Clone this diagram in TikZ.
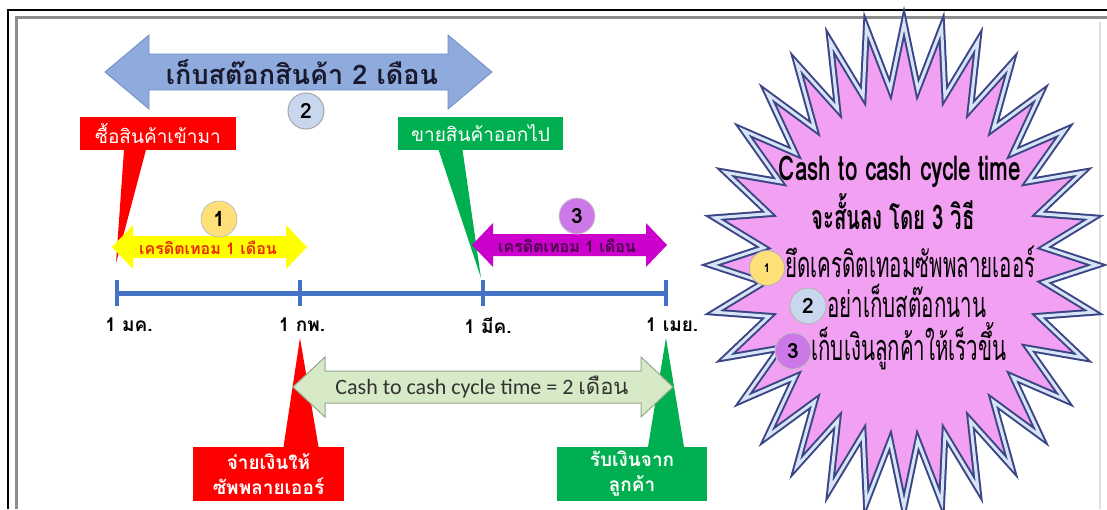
\documentclass[tikz,border=0pt]{standalone}
\usepackage{fontspec}
\newfontfamily\thai[Script=Thai]{Loma}
\newfontfamily\thaicond[Script=Thai,FakeStretch=0.66]{Loma}
\newfontfamily\thaisub[Script=Thai,FakeStretch=0.60]{Loma}
\newfontfamily\thainarrow[Script=Thai,FakeStretch=0.57]{Loma}
\newfontfamily\carl{Carlito}
\definecolor{bluearr}{RGB}{143,170,220}
\definecolor{bluearrb}{RGB}{110,140,200}
\definecolor{circtwo}{RGB}{200,215,238}
\definecolor{circone}{RGB}{255,224,120}
\definecolor{circthree}{RGB}{204,120,230}
\definecolor{boxred}{RGB}{255,0,0}
\definecolor{boxgreen}{RGB}{0,176,80}
\definecolor{tlblue}{RGB}{68,114,196}
\definecolor{yelarr}{RGB}{255,255,0}
\definecolor{yeltext}{RGB}{235,40,0}
\definecolor{magarr}{RGB}{204,0,204}
\definecolor{magtext}{RGB}{70,0,70}
\definecolor{cashfill}{RGB}{214,234,200}
\definecolor{cashdraw}{RGB}{150,165,140}
\definecolor{starfill}{RGB}{242,160,242}
\definecolor{stardark}{RGB}{60,70,135}
\definecolor{starlight}{RGB}{215,228,245}
\definecolor{darktext}{RGB}{25,25,45}
\newcommand\dblarrowpath[6]{%
  (#1,#3) -- ({#1+#4},{#3-#6}) -- ({#1+#4},{#3-#5}) -- ({#2-#4},{#3-#5}) --
  ({#2-#4},{#3-#6}) -- (#2,#3) -- ({#2-#4},{#3+#6}) -- ({#2-#4},{#3+#5}) --
  ({#1+#4},{#3+#5}) -- ({#1+#4},{#3+#6}) -- cycle}
\tikzset{
  calloutbox/.style={inner sep=2pt, align=center, text=white, font=\thai\fontsize{19}{22}\selectfont},
  numcirc/.style={circle, minimum size=36pt, inner sep=0pt, font=\thai\bfseries\fontsize{21}{22}\selectfont, text=black},
  datelbl/.style={font=\thai\bfseries\fontsize{19}{22}\selectfont, text=black},
  tick/.style={draw=tlblue, line width=4pt},
  itemtext/.style={font=\thainarrow\fontsize{36}{38}\selectfont, text=black, anchor=west},
}
\begin{document}
\begin{tikzpicture}[x=1pt,y=-1pt]
\useasboundingbox (0,0) rectangle (1107,509);
\fill[white] (0,0) rectangle (1107,509);
% frame
\draw[black, line width=2pt] (8,509) -- (8,10) -- (1107,10);
\draw[black!45, line width=3pt] (16,509) -- (16,17) -- (1107,17);
\draw[black!12, line width=1.5pt] (1100,22) -- (1100,509);

% big blue arrow
\filldraw[fill=bluearr, draw=bluearrb, line width=0.8pt] \dblarrowpath{105}{492}{72}{44}{18}{37};
\node[font=\thai\bfseries\fontsize{27}{30}\selectfont, text=darktext] (stock) at (302,72) {เก็บสต๊อกสินค้า 2 เดือน};
\node[numcirc, fill=circtwo, draw=black!35, line width=1pt] (c2) at (306,111) {2};

% timeline
\coordinate (m1) at (117,293);
\coordinate (m2) at (300,293);
\coordinate (m3) at (483,293);
\coordinate (m4) at (666,293);
\draw[tlblue, line width=5pt] (m1) -- (m4);
\foreach \m in {m1,m2,m3,m4} \draw[tick] ([yshift=-13]\m) -- ([yshift=13]\m);
\node[datelbl] (d1) at (129,325) {1 มค.};
\node[datelbl] (d2) at (302,325) {1 กพ.};
\node[datelbl] (d3) at (488,325) {1 มีค.};
\node[datelbl] (d4) at (672,325) {1 เมย.};

% upper callouts
\node[calloutbox, fill=boxred, minimum width=156pt, minimum height=33pt] (buy) at (158,133) {ซื้อสินค้าเข้ามา};
\coordinate (tipbuy) at (116,263);
\fill[boxred] ([xshift=-34pt]buy.south) -- ([xshift=-12pt]buy.south) -- (tipbuy) -- cycle;
\node[calloutbox, fill=boxgreen, minimum width=165pt, minimum height=33pt] (sell) at (480.5,133) {ขายสินค้าออกไป};
\coordinate (tipsell) at (481,278);
\fill[boxgreen] ([xshift=-42pt]sell.south) -- ([xshift=-18pt]sell.south) -- (tipsell) -- cycle;

% lower callouts
\node[calloutbox, fill=boxred, minimum width=151pt, minimum height=54pt, font=\thai\bfseries\fontsize{19}{25}\selectfont] (pay) at (268.5,474) {จ่ายเงินให้\\ซัพพลายเออร์};
\coordinate (tippay) at (300,338);
\fill[boxred] ([xshift=15pt]pay.north) -- ([xshift=50pt]pay.north) -- (tippay) -- cycle;
\node[calloutbox, fill=boxgreen, minimum width=150pt, minimum height=54pt, font=\thai\bfseries\fontsize{19}{25}\selectfont] (recv) at (632,474) {รับเงินจาก\\ลูกค้า};
\coordinate (tiprecv) at (666,338);
\fill[boxgreen] ([xshift=16pt]recv.north) -- ([xshift=52pt]recv.north) -- (tiprecv) -- cycle;

% yellow credit arrow
\fill[yelarr] \dblarrowpath{112}{307}{247}{21}{11}{22};
\node[font=\thai\bfseries\fontsize{16}{18}\selectfont, text=yeltext] (cr1) at (208,248) {เครดิตเทอม 1 เดือน};
\node[numcirc, fill=circone, draw=black!25, line width=0.8pt] (c1) at (219,219) {1};

% magenta credit arrow
\fill[magarr] \dblarrowpath{472}{667}{245}{21}{11}{22};
\node[font=\thai\bfseries\fontsize{16}{18}\selectfont, text=magtext] (cr3) at (567,246) {เครดิตเทอม 1 เดือน};
\node[numcirc, fill=circthree, draw=black!20, line width=0.8pt] (c3) at (577,216) {3};

% cash to cash arrow
\filldraw[fill=cashfill, draw=cashdraw, line width=1pt] \dblarrowpath{293}{673}{387}{32}{16}{30};
\node[font=\carl\fontsize{22}{24}\selectfont, text=black!80] (cash) at (482,387) {Cash to cash cycle time = 2 {\thai เดือน}};

% star
\path[fill=starfill, draw=stardark, double=starlight, double distance=3pt, line width=2pt, line join=miter, miter limit=30]
  (1097,265) \foreach \i in {1,...,63} { -- ({904+(1-0.27*mod(\i,2))*193*cos(\i*5.625)},{265+(1-0.27*mod(\i,2))*242*sin(\i*5.625)}) } -- cycle;
\node[font=\thaicond\bfseries\fontsize{34}{36}\selectfont, text=black] (st1) at (900,172) {Cash to cash cycle time};
\node[font=\thaisub\bfseries\fontsize{34}{36}\selectfont, text=black] (st2) at (893,212) {จะสั้นลง โดย 3 วิธี};
\node[numcirc, minimum size=35pt, fill=circone, draw=black!30, line width=0.8pt, font=\thai\bfseries\fontsize{12}{14}\selectfont] (s1) at (767,268) {1};
\node[itemtext] (i1) at (782,262) {ยึดเครดิตเทอมซัพพลายเออร์};
\node[numcirc, minimum size=36pt, fill=circtwo, draw=black!30, line width=0.8pt] (s2) at (808,306) {2};
\node[itemtext] (i2) at (824,301) {อย่าเก็บสต๊อกนาน};
\node[numcirc, minimum size=36pt, fill=circthree, draw=black!25, line width=0.8pt] (s3) at (793,351) {3};
\node[itemtext] (i3) at (808,346) {เก็บเงินลูกค้าให้เร็วขึ้น};
\end{tikzpicture}
\end{document}
